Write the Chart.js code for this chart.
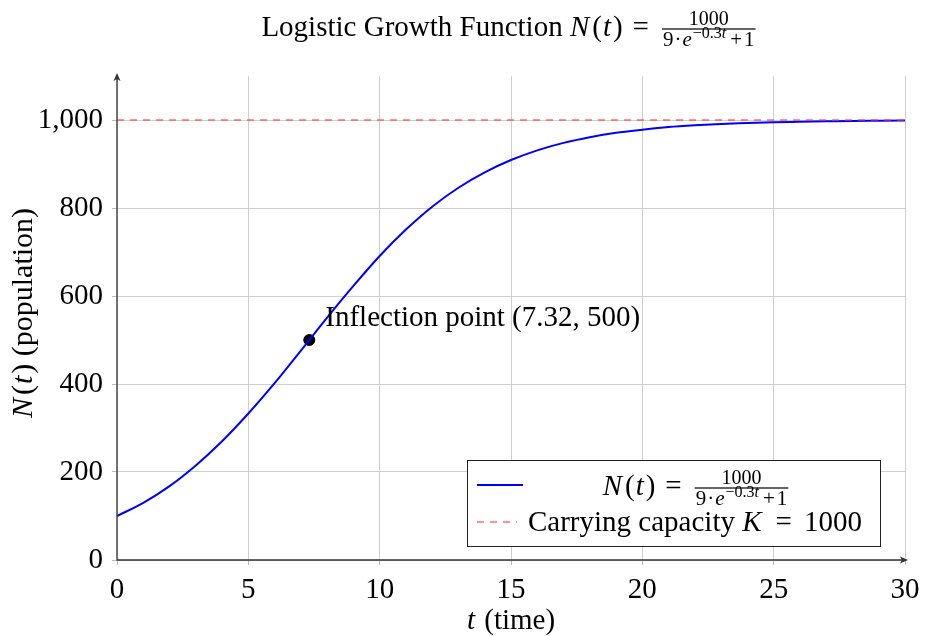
<!DOCTYPE html>
<html>
<head>
<meta charset="utf-8">
<script src="https://cdn.jsdelivr.net/npm/chart.js@4.4.1/dist/chart.umd.min.js"></script>
<style>
  html, body { margin: 0; padding: 0; background: #fff; }
  #wrap { width: 925px; height: 636px; }
</style>
</head>
<body>
<div id="wrap"><canvas id="chart" width="925" height="636"></canvas></div>
<script>
// values
const timeValues = [0, 1, 2, 3, 4, 5, 6, 7, 8, 9, 10, 11, 12, 13, 14, 15,
  16, 17, 18, 19, 20, 21, 22, 23, 24, 25, 26, 27, 28, 29, 30];
const populationValues = [100, 130, 168, 215, 270, 333, 402, 476, 551, 623, 691,
  751, 803, 846, 881, 909, 931, 948, 961, 971, 978, 984, 988, 991, 993, 995,
  996, 997, 998, 998.5, 999];
const capacityValue = 1000;
const inflectionPoint = { x: 7.32, y: 500 };
const xTicks = [0, 5, 10, 15, 20, 25, 30];
const yTicks = [0, 200, 400, 600, 800, 1000];

const SERIF = "'Liberation Serif', 'Times New Roman', serif";
const BLUE = '#0000ff';
const RED_DASH = 'rgba(255, 60, 60, 0.75)';
const FS = 29;

// --- little helpers for the LaTeX-ish text ---
function setFont(ctx, seg) {
  ctx.font = (seg.it ? 'italic ' : '') + seg.s + 'px ' + SERIF;
}

function segWidth(ctx, seg) {
  if (seg.frac) {
    const n = segsWidth(ctx, seg.frac[0]);
    const d = segsWidth(ctx, seg.frac[1]);
    return Math.max(n, d) + 4;
  }
  setFont(ctx, seg);
  return ctx.measureText(seg.t).width + (seg.gap || 0) + (seg.pre || 0);
}

function segsWidth(ctx, segs) {
  return segs.reduce((w, s) => w + segWidth(ctx, s), 0);
}

function drawSegs(ctx, segs, x, y) {
  ctx.textAlign = 'left';
  ctx.textBaseline = 'alphabetic';
  ctx.fillStyle = '#000';
  for (const seg of segs) {
    const w = segWidth(ctx, seg);
    if (seg.frac) {
      const bar = y - seg.axis;
      const nw = segsWidth(ctx, seg.frac[0]);
      const dw = segsWidth(ctx, seg.frac[1]);
      drawSegs(ctx, seg.frac[0], x + (w - nw) / 2, bar - seg.up);
      drawSegs(ctx, seg.frac[1], x + (w - dw) / 2, bar + seg.down);
      ctx.fillRect(x + 1, bar - 0.6, w - 2, 1.2);
    } else {
      setFont(ctx, seg);
      ctx.fillText(seg.t, x + (seg.pre || 0), y + (seg.dy || 0));
    }
    x += w;
  }
}

// N(t) with math-like spacing
function mathN(s) {
  return [
    { t: 'N', s: s, it: true, gap: 3 }, { t: '(', s: s, gap: 1 },
    { t: 't', s: s, it: true, gap: 2 }, { t: ')', s: s }
  ];
}

function mathEq(s, pre, post) {
  return { t: '=', s: s, pre: pre, gap: post };
}

function formulaFrac() {
  return {
    frac: [
      [{ t: '1000', s: 20 }],
      [{ t: '9', s: 21 }, { t: '\u00b7', s: 21, pre: 1, gap: 1 }, { t: 'e', s: 21, it: true, gap: 1 },
       { t: '\u22120.3', s: 16, dy: -8 }, { t: 't', s: 16, it: true, dy: -8, gap: 2 },
       { t: '+', s: 21, pre: 2, gap: 2 }, { t: '1', s: 21 }]
    ],
    axis: 7, up: 4, down: 17
  };
}

// title, axis names, annotation, legend, axis arrows
const decorPlugin = {
  id: 'decor',
  afterDatasetsDraw(chart) {
    const ctx = chart.ctx;
    const xs = chart.scales.x, ys = chart.scales.y;
    const area = chart.chartArea;
    ctx.save();

    // axis lines with arrow heads
    ctx.strokeStyle = '#333';
    ctx.fillStyle = '#333';
    ctx.lineWidth = 1.3;
    ctx.beginPath();
    ctx.moveTo(area.left, area.bottom + 0.5);
    ctx.lineTo(area.left, area.top + 2);
    ctx.moveTo(area.left - 0.5, area.bottom);
    ctx.lineTo(area.right, area.bottom);
    ctx.stroke();
    ctx.beginPath();
    ctx.moveTo(area.left, area.top - 3);
    ctx.lineTo(area.left - 3.5, area.top + 5);
    ctx.lineTo(area.left, area.top + 3);
    ctx.lineTo(area.left + 3.5, area.top + 5);
    ctx.closePath();
    ctx.fill();
    ctx.beginPath();
    ctx.moveTo(area.right + 3, area.bottom);
    ctx.lineTo(area.right - 5, area.bottom - 3.5);
    ctx.lineTo(area.right - 3, area.bottom);
    ctx.lineTo(area.right - 5, area.bottom + 3.5);
    ctx.closePath();
    ctx.fill();

    // annotation
    drawSegs(ctx, [
      { t: 'Inflection point ', s: FS },
      { t: '(7.32, 500)', s: FS }
    ], xs.getPixelForValue(inflectionPoint.x) + 16, ys.getPixelForValue(inflectionPoint.y) - 14);

    // legend box
    const lx = 467, ly = 460, lw = 413, lh = 86;
    ctx.fillStyle = '#fff';
    ctx.fillRect(lx, ly, lw, lh);
    ctx.strokeStyle = '#222';
    ctx.lineWidth = 1;
    ctx.strokeRect(lx + 0.5, ly + 0.5, lw, lh);

    ctx.lineWidth = 2;
    ctx.strokeStyle = BLUE;
    ctx.beginPath();
    ctx.moveTo(477, 485);
    ctx.lineTo(523, 485);
    ctx.stroke();
    ctx.strokeStyle = RED_DASH;
    ctx.lineWidth = 1.3;
    ctx.setLineDash([7, 6]);
    ctx.beginPath();
    ctx.moveTo(477, 522);
    ctx.lineTo(517, 522);
    ctx.stroke();
    ctx.setLineDash([]);

    const row1 = [...mathN(FS), mathEq(FS, 10, 12), formulaFrac()];
    const w1 = segsWidth(ctx, row1);
    drawSegs(ctx, row1, 696 - w1 / 2, 495);
    drawSegs(ctx, [
      { t: 'Carrying capacity ', s: FS }, { t: 'K', s: FS, it: true, gap: 2 },
      mathEq(FS, 12, 12), { t: '1000', s: FS }
    ], 528, 531);

    // title
    const title = [
      { t: 'Logistic Growth Function ', s: FS },
      ...mathN(FS), mathEq(FS, 10, 12), formulaFrac()
    ];
    const tw = segsWidth(ctx, title);
    drawSegs(ctx, title, 509 - tw / 2, 36);

    // x axis name
    const xt = [{ t: 't', s: FS, it: true, gap: 2 }, { t: ' (time)', s: FS }];
    drawSegs(ctx, xt, (area.left + area.right) / 2 - segsWidth(ctx, xt) / 2, 629);

    // y axis name
    const yt = [...mathN(FS + 1), { t: ' (population)', s: FS + 1 }];
    ctx.translate(32, 313);
    ctx.rotate(-Math.PI / 2);
    drawSegs(ctx, yt, -segsWidth(ctx, yt) / 2, 0);
    ctx.restore();
  }
};

const curvePoints = timeValues.map((t, i) => ({ x: t, y: populationValues[i] }));
const capacityPoints = [
  { x: xTicks[0], y: capacityValue },
  { x: xTicks[xTicks.length - 1], y: capacityValue }
];

new Chart(document.getElementById('chart'), {
  type: 'scatter',
  data: {
    datasets: [
      {
        label: 'Carrying capacity K = 1000',
        data: capacityPoints,
        showLine: true,
        borderColor: RED_DASH,
        borderWidth: 1.3,
        borderDash: [7, 6],
        pointRadius: 0
      },
      {
        label: 'N(t)',
        data: curvePoints,
        showLine: true,
        borderColor: BLUE,
        borderWidth: 2,
        cubicInterpolationMode: 'monotone',
        pointRadius: 0
      },
      {
        label: 'Inflection point',
        data: [inflectionPoint],
        showLine: false,
        pointRadius: 5.5,
        pointBackgroundColor: '#000',
        pointBorderColor: '#000'
      }
    ]
  },
  options: {
    responsive: false,
    animation: false,
    layout: { padding: { top: 76, right: 20, left: 0, bottom: 0 } },
    plugins: {
      legend: { display: false },
      title: { display: false },
      tooltip: { enabled: false }
    },
    scales: {
      x: {
        type: 'linear',
        min: 0,
        max: 30,
        afterFit(scale) {
          scale.height = 76;
          scale.paddingRight = 0;
          scale.paddingLeft = 0;
        },
        afterBuildTicks(scale) { scale.ticks = xTicks.map(v => ({ value: v })); },
        border: { display: false },
        grid: { color: '#cfcfcf', lineWidth: 1, tickLength: 5, tickColor: '#bbb' },
        ticks: {
          padding: 8,
          color: '#000',
          font: { family: SERIF, size: FS },
          maxRotation: 0
        }
      },
      y: {
        type: 'linear',
        min: 0,
        max: 1100,
        afterFit(scale) {
          scale.width = 117;
          scale.paddingTop = 0;
          scale.paddingBottom = 0;
        },
        afterBuildTicks(scale) { scale.ticks = yTicks.map(v => ({ value: v })); },
        border: { display: false },
        grid: { color: '#cfcfcf', lineWidth: 1, tickLength: 5, tickColor: '#bbb' },
        ticks: {
          padding: 9,
          color: '#000',
          font: { family: SERIF, size: FS },
          callback: v => v.toLocaleString('en-US')
        }
      }
    }
  },
  plugins: [decorPlugin]
});
</script>
</body>
</html>
